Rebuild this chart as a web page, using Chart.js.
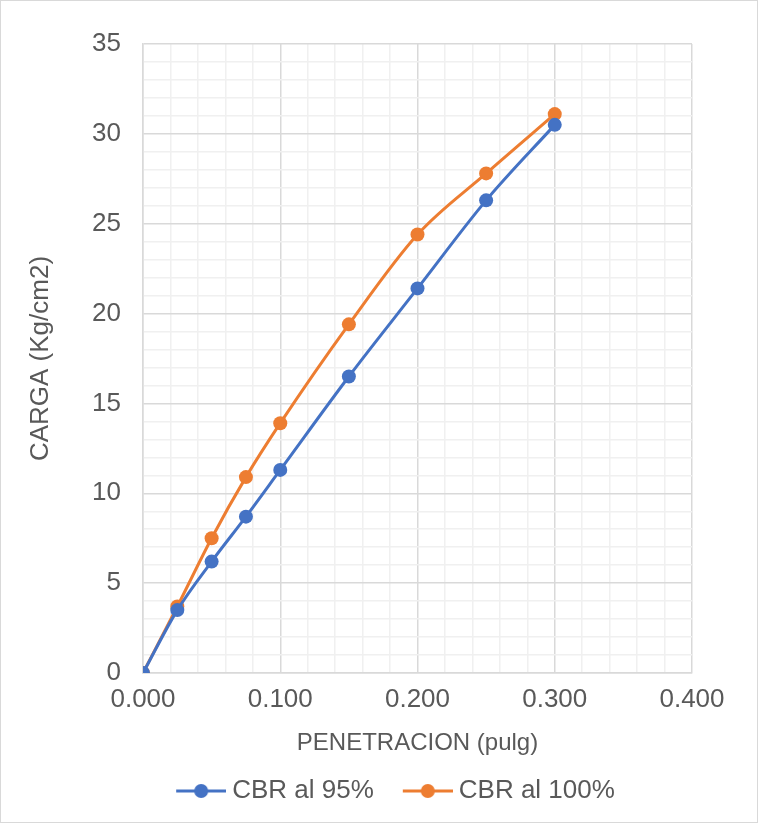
<!DOCTYPE html>
<html>
<head>
<meta charset="utf-8">
<script src="https://cdn.jsdelivr.net/npm/chart.js@4/dist/chart.umd.min.js"></script>
<style>
  html, body { margin: 0; padding: 0; background: #fff; }
  #wrap { position: relative; width: 758px; height: 823px; box-sizing: border-box; border: 1px solid #d9d9d9; }
</style>
</head>
<body>
<div id="wrap"><canvas id="chart"></canvas></div>
<script>
// penetration (pulg) and load (Kg/cm2)
const penetracion = [0.000, 0.025, 0.050, 0.075, 0.100, 0.150, 0.200, 0.250, 0.300];
const cbr95 = [0, 3.5, 6.2, 8.7, 11.3, 16.5, 21.4, 26.3, 30.5];
const cbr100 = [0, 3.7, 7.5, 10.9, 13.9, 19.4, 24.4, 27.8, 31.1];
const seriesNames = ['CBR al 95%', 'CBR al 100%'];

const BLUE = '#4472c4';
const ORANGE = '#ed7d31';
const TEXT = '#595959';
const FONT = '"Liberation Sans", Arial, sans-serif';
const FS = 26;

function pts(ys) {
    return penetracion.map((x, i) => ({ x: x, y: ys[i] }));
}

function isMajor(v, step) {
    const r = v / step;
    return Math.abs(r - Math.round(r)) < 1e-6;
}

// legend marker: short line with a dot, empty room on the left
function legendMarker(color) {
    const c = document.createElement('canvas');
    c.width = 66; c.height = 16;
    const g = c.getContext('2d');
    g.strokeStyle = color;
    g.lineWidth = 3;
    g.beginPath(); g.moveTo(16, 8); g.lineTo(66, 8); g.stroke();
    g.fillStyle = color;
    g.beginPath(); g.arc(41, 8, 7, 0, Math.PI * 2); g.fill();
    return c;
}

const ds = (label, data, color) => ({
    label: label,
    data: pts(data),
    borderColor: color,
    backgroundColor: color,
    borderWidth: 3,
    pointRadius: 7,
    pointHoverRadius: 7,
    pointBorderWidth: 0,
    tension: 0.3,
    cubicInterpolationMode: 'monotone',
});

new Chart(document.getElementById('chart'), {
    type: 'scatter',
    data: {
        datasets: [
            ds(seriesNames[0], cbr95, BLUE),
            ds(seriesNames[1], cbr100, ORANGE),
        ]
    },
    options: {
        responsive: true,
        maintainAspectRatio: false,
        animation: false,
        showLine: true,
        layout: { padding: { left: 24, right: 0, top: 43, bottom: 8 } },
        plugins: {
            tooltip: { enabled: false },
            legend: {
                position: 'bottom',
                labels: {
                    usePointStyle: true,
                    pointStyleWidth: 52,
                    color: TEXT,
                    font: { family: FONT, size: FS },
                    boxHeight: 16,
                    padding: 20,
                    generateLabels: (chart) => chart.data.datasets.map((d, i) => ({
                        text: d.label,
                        fillStyle: d.borderColor,
                        strokeStyle: d.borderColor,
                        lineWidth: 0,
                        pointStyle: legendMarker(d.borderColor),
                        hidden: false,
                        datasetIndex: i,
                        fontColor: TEXT,
                    })),
                }
            }
        },
        scales: {
            x: {
                type: 'linear',
                min: 0,
                max: 0.4,
                afterFit: (s) => { s.paddingRight = 65; },
                ticks: {
                    stepSize: 0.02,
                    autoSkip: false,
                    maxRotation: 0,
                    color: TEXT,
                    font: { family: FONT, size: FS },
                    padding: 11,
                    callback: (v) => isMajor(v, 0.1) ? v.toFixed(3) : '',
                },
                grid: {
                    color: (c) => isMajor(c.tick.value, 0.1) ? '#d9d9d9' : '#f0f0f0',
                    lineWidth: 1.5,
                    drawTicks: false,
                },
                border: { color: '#d9d9d9', width: 1.5 },
                title: {
                    display: true,
                    text: 'PENETRACION (pulg)',
                    color: TEXT,
                    font: { family: FONT, size: 24 },
                    padding: { top: 3, bottom: 0 },
                }
            },
            y: {
                min: 0,
                max: 35,
                afterFit: (s) => { s.width = 118; },
                ticks: {
                    stepSize: 1,
                    autoSkip: false,
                    color: TEXT,
                    font: { family: FONT, size: FS },
                    padding: 22,
                    callback: (v) => isMajor(v, 5) ? String(v) : '',
                },
                grid: {
                    color: (c) => isMajor(c.tick.value, 5) ? '#d9d9d9' : '#f0f0f0',
                    lineWidth: 1.5,
                    drawTicks: false,
                },
                border: { color: '#d9d9d9', width: 1.5 },
                title: {
                    display: true,
                    text: 'CARGA (Kg/cm2)',
                    color: TEXT,
                    font: { family: FONT, size: FS },
                    padding: { top: 0, bottom: 8 },
                }
            }
        }
    }
});
</script>
</body>
</html>
